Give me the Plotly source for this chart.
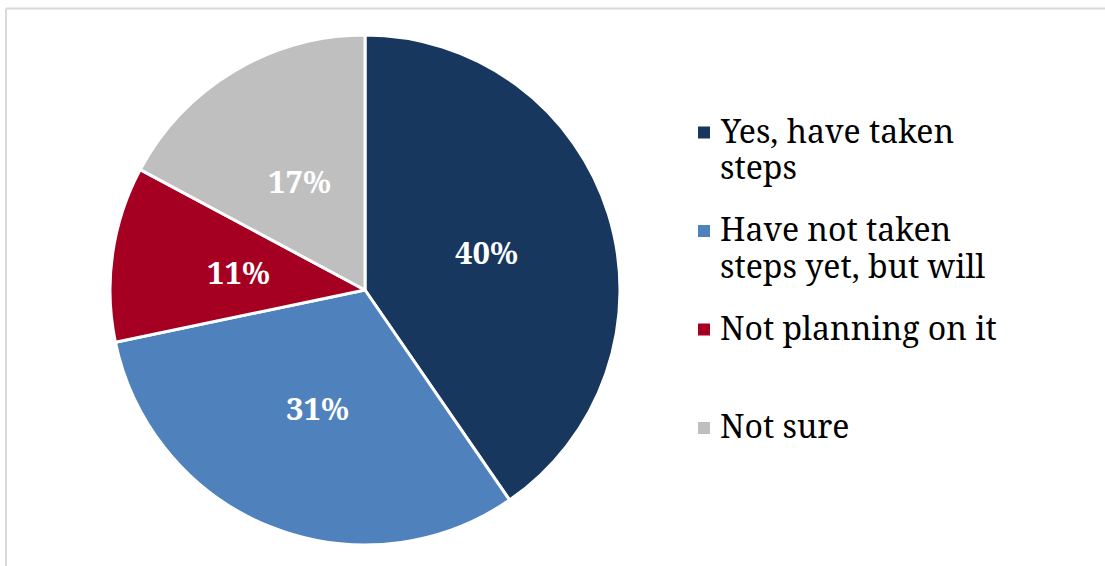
import numpy as np
import plotly.graph_objects as go

labels = ["Yes, have taken steps", "Have not taken steps yet, but will", "Not planning on it", "Not sure"]
legend_lines = [["Yes, have taken", "steps"], ["Have not taken", "steps yet, but will"],
                ["Not planning on it"], ["Not sure"]]
values = [40, 31, 11, 17]
colors = ["#17375E", "#4F81BD", "#A50021", "#BFBFBF"]

W, H = 1105, 566
FONT = "Noto Serif, DejaVu Serif, serif"
CX, CY, R = 365, 290, 255

fig = go.Figure(go.Pie(
    labels=labels, values=values, sort=False, direction="clockwise", rotation=0,
    marker=dict(colors=colors, line=dict(color="white", width=3)),
    textinfo="none",
    domain=dict(x=[(CX - R) / W, (CX + R) / W], y=[(H - CY - R) / H, (H - CY + R) / H]),
    showlegend=False, hoverinfo="label+percent",
))

annotations = []
# percentage labels at half radius along each slice's mid angle
vals = np.array(values, dtype=float)
cum = np.cumsum(vals) - vals / 2
ang = cum / vals.sum() * 2 * np.pi
for v, a in zip(values, ang):
    px = CX + 0.5 * R * np.sin(a)
    py = CY - 0.5 * R * np.cos(a)
    annotations.append(dict(text=f"<b>{v}%</b>", xref="paper", yref="paper",
                            x=px / W, y=1 - py / H, xanchor="center", yanchor="middle",
                            showarrow=False, font=dict(family=FONT, size=31, color="white")))

shapes = [
    dict(type="line", xref="paper", yref="paper", x0=6 / W, x1=1, y0=1 - 8.5 / H, y1=1 - 8.5 / H,
         line=dict(color="#D9D9D9", width=2)),
    dict(type="line", xref="paper", yref="paper", x0=6 / W, x1=6 / W, y0=0, y1=1 - 8.5 / H,
         line=dict(color="#D9D9D9", width=2)),
]
FS = 32
B0, step, lstep = 143, 98.5, 36.5
for i, (lines, col) in enumerate(zip(legend_lines, colors)):
    B = B0 + i * step
    shapes.append(dict(type="rect", xref="paper", yref="paper",
                       x0=698 / W, x1=710 / W, y0=1 - (B - 4.5) / H, y1=1 - (B - 16.5) / H,
                       fillcolor=col, line=dict(width=0)))
    for j, ln in enumerate(lines):
        bl = B + j * lstep
        top = bl - 1.14 * FS
        annotations.append(dict(text=ln, xref="paper", yref="paper", x=718 / W, y=1 - top / H,
                                xanchor="left", yanchor="top", align="left", showarrow=False,
                                font=dict(family=FONT, size=FS, color="#000000")))

fig.update_layout(
    width=W, height=H, margin=dict(l=0, r=0, t=0, b=0),
    paper_bgcolor="white", plot_bgcolor="white",
    shapes=shapes, annotations=annotations,
)
fig.write_html("out.html")
